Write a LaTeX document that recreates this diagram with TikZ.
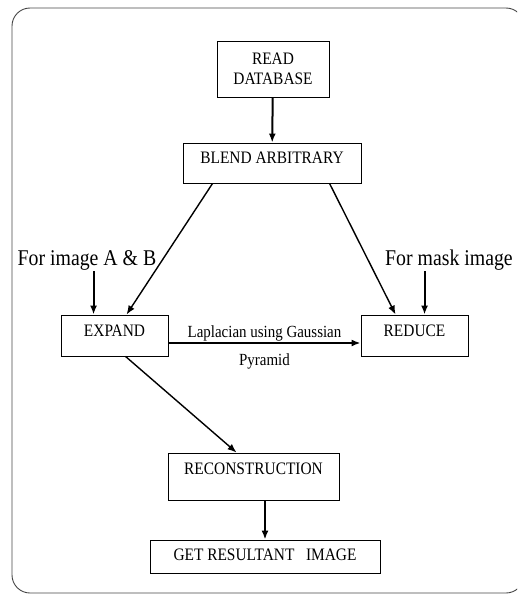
\documentclass[tikz,border=0pt]{standalone}
\usepackage{fontspec}
\setmainfont[FakeStretch=0.88]{Liberation Serif}
\usepackage{tikz}
\usetikzlibrary{calc, arrows.meta}
\definecolor{mygray1}{RGB}{70, 70, 70}
\tikzset{>={Latex[length=9pt, width=7pt]}}
\tikzset{box/.style={draw, line width=0.9pt, align=center, inner sep=0pt, font=\fontsize{17.5}{20}\selectfont},
arr/.style={->, line width=1.4pt},
lbl/.style={inner sep=1pt, font=\fontsize{22.5}{25}\selectfont},
lapl/.style={inner sep=1pt, font=\fontsize{17}{19}\selectfont}}

\begin{document}
\begin{tikzpicture}[x=1pt, y=-1pt]
\useasboundingbox (0,0) rectangle (517,594);
\begin{scope}
\clip (0,0) rectangle (517,594);
\draw[mygray1, line width=0.9pt, rounded corners=18pt] (12,8) rectangle (524,593);
\end{scope}
% boxes
\node[box, minimum width=112pt, minimum height=56pt] (read) at (273,69) {READ\\DATABASE};
\node[box, minimum width=178pt, minimum height=40pt, text depth=10pt] (blend) at (272,163) {BLEND ARBITRARY};
\node[box, minimum width=107pt, minimum height=41pt, text depth=9pt] (expand) at (114.5,335.5) {EXPAND};
\node[box, minimum width=107pt, minimum height=41pt, text depth=9pt] (reduce) at (414.5,335.5) {REDUCE};
\node[box, minimum width=171pt, minimum height=47pt, text depth=16pt] (recon) at (253.5,476.5) {RECONSTRUCTION};
\node[box, minimum width=230pt, minimum height=33pt, text depth=3pt] (result) at (265,556.5) {GET RESULTANT~~~IMAGE};
% inputs
\node[lbl, anchor=base] (inA) at (87,265) {For image A \& B};
\node[lbl, anchor=base] (inM) at (449,265) {For mask image};
\coordinate (tA) at ($(expand.north west)+(33,0)$);
\coordinate (tM) at ($(reduce.north west)+(64,0)$);
\draw[arr, line width=2pt] (tA |- inA.south) -- (tA);
\draw[arr, line width=2pt] (tM |- inM.south) -- (tM);
% flow
\draw[arr, line width=2pt] (read) -- (blend);
\draw[arr] ($(blend.south west)+(30,0)$) -- ($(expand.north west)+(66,0)$);
\draw[arr] ($(blend.south west)+(147,0)$) -- ($(reduce.north west)+(35,0)$);
\draw[arr, line width=1.8pt] ($(expand.east)+(0,7.5)$) --
  node[lapl, above] {Laplacian using Gaussian}
  node[lapl, below=8.5pt] {Pyramid} ($(reduce.west)+(0,7.5)$);
\draw[arr] ($(expand.south west)+(65,0)$) -- ($(recon.north west)+(69,0)$);
\draw[arr, line width=2pt] (result.north |- recon.south) -- (result.north);
\end{tikzpicture}
\end{document}
